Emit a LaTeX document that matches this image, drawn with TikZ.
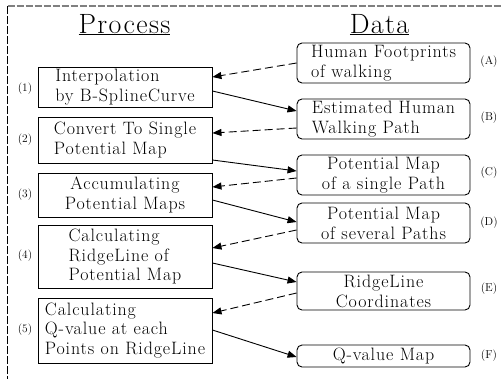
\documentclass[tikz,border=0pt]{standalone}
\usepackage{fontspec}
\setmainfont{Latin Modern Roman}
\newfontfamily\boxfont{Latin Modern Roman}[LetterSpace=5]
\usetikzlibrary{arrows.meta}
\tikzset{
  pbox/.style={draw, line width=0.9bp, minimum width=174bp, inner sep=2bp, align=left,
    font=\boxfont\fontsize{18}{20}\selectfont},
  dbox/.style={draw, line width=0.9bp, rounded corners=5bp, minimum width=173bp, inner sep=2bp,
    font=\boxfont\fontsize{18}{20}\selectfont},
  tag/.style={font=\fontsize{11.5}{12}\selectfont, inner sep=0pt},
  ttl/.style={font=\boxfont\fontsize{28}{30}\selectfont, inner sep=0pt, anchor=base},
  sol/.style={line width=0.9bp, -{Triangle[length=9bp,width=7bp]}},
  dsh/.style={line width=0.9bp, dash pattern=on 8bp off 4bp, -{Triangle[length=9bp,width=7bp]}},
}
\begin{document}
\begin{tikzpicture}[x=1bp,y=-1bp]
\useasboundingbox (0,0) rectangle (502,379);
% frame
\draw[gray, line width=1.2bp, dash pattern=on 7bp off 2bp] (7.5,6) -- (502,6);
\draw[black, line width=1bp, dash pattern=on 8bp off 2bp] (7.5,6) -- (7.5,379);
% titles
\node[ttl] (tp) at (124.5,33) {\underline{Process}};
\node[ttl] (td) at (379.5,33) {\underline{Data}};
% process boxes
\node[pbox, minimum height=40bp] (P1) at (125,87) {Interpolation\\by B-SplineCurve};
\node[pbox, minimum height=46bp] (P2) at (125,140) {Convert To Single\\Potential Map};
\node[pbox, minimum height=44bp, align=center] (P3) at (125,195) {Accumulating\\Potential Maps};
\node[pbox, minimum height=63bp] (P4) at (125,256.5) {Calculating\\RidgeLine of\\Potential Map};
\node[pbox, minimum height=65bp] (P5) at (125,330.5) {Calculating\\Q-value at each\\Points on RidgeLine};
% data boxes
\node[dbox, minimum height=40bp, align=left] (A) at (383.5,63) {Human Footprints\\of walking};
\node[dbox, minimum height=40bp, align=left] (B) at (383.5,119) {Estimated Human\\Walking Path};
\node[dbox, minimum height=40bp, align=center] (C) at (383.5,175) {Potential Map\\of a single Path};
\node[dbox, minimum height=40bp, align=center] (D) at (383.5,223) {Potential Map\\of several Paths};
\node[dbox, minimum height=38bp, align=center] (E) at (383.5,291) {RidgeLine\\Coordinates};
\node[dbox, minimum height=22bp, align=center] (F) at (383.5,356) {Q-value Map};
% tags
\node[tag] (t1) at (25,89) {(1)};
\node[tag] (t2) at (25,140) {(2)};
\node[tag] (t3) at (25,195) {(3)};
\node[tag] (t4) at (25,256) {(4)};
\node[tag] (t5) at (25,330) {(5)};
\node[tag] (tA) at (489,62) {(A)};
\node[tag] (tB) at (489,118) {(B)};
\node[tag] (tC) at (489,173) {(C)};
\node[tag] (tD) at (489,223) {(D)};
\node[tag] (tE) at (489,289) {(E)};
\node[tag] (tF) at (489,356) {(F)};
% connectors
\draw[dsh] (A.west) -- ([yshift=10bp]P1.east);
\draw[sol] ([yshift=-4bp]P1.east) -- ([yshift=8bp]B.west);
\draw[dsh] ([yshift=-9bp]B.west) -- ([yshift=7bp]P2.east);
\draw[sol] ([yshift=-20bp]P2.east) -- ([yshift=4bp]C.west);
\draw[dsh] ([yshift=-3bp]C.west) -- ([yshift=8bp]P3.east);
\draw[sol] ([yshift=-5bp]P3.east) -- ([yshift=1bp]D.west);
\draw[dsh] ([yshift=-7bp]D.west) -- ([yshift=8.5bp]P4.east);
\draw[sol] ([yshift=-6.5bp]P4.east) -- ([yshift=9bp]E.west);
\draw[dsh] ([yshift=-2bp]E.west) -- ([yshift=17.5bp]P5.east);
\draw[sol] ([yshift=0.5bp]P5.east) -- ([yshift=-1bp]F.west);
\end{tikzpicture}
\end{document}
